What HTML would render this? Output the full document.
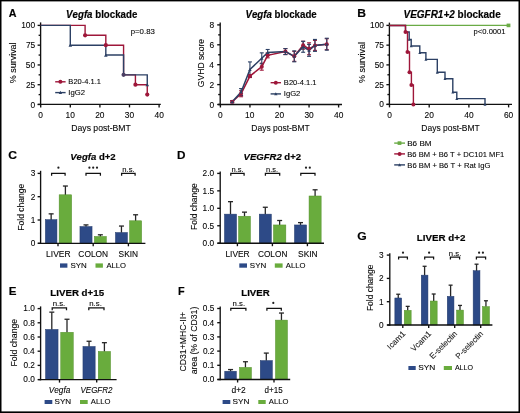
<!DOCTYPE html><html><head><meta charset="utf-8"><style>html,body{margin:0;padding:0;background:#fff;}svg{display:block;font-family:"Liberation Sans",sans-serif;font-kerning:none;filter:blur(0.35px);}text{stroke:#1e1e1e;stroke-width:0.1px;} text[font-weight=bold]{stroke-width:0.2px;}</style></head><body>
<svg width="520" height="413" viewBox="0 0 520 413">
<rect x="0.00" y="0.00" width="520.00" height="413.00" fill="#fff"/>
<text x="8.73" y="16.70" font-size="11.4" font-weight="bold" textLength="7.75" lengthAdjust="spacingAndGlyphs">A</text>
<text x="66.09" y="17.70" font-size="10.2" font-weight="bold" textLength="71.24" lengthAdjust="spacingAndGlyphs"><tspan font-style="italic">Vegfa</tspan> blockade</text>
<line x1="40.60" y1="22.40" x2="40.60" y2="105.08" stroke="#111" stroke-width="1.35" stroke-linecap="butt"/>
<line x1="37.60" y1="104.50" x2="40.60" y2="104.50" stroke="#111" stroke-width="1.35" stroke-linecap="butt"/>
<line x1="37.60" y1="84.72" x2="40.60" y2="84.72" stroke="#111" stroke-width="1.35" stroke-linecap="butt"/>
<line x1="37.60" y1="64.95" x2="40.60" y2="64.95" stroke="#111" stroke-width="1.35" stroke-linecap="butt"/>
<line x1="37.60" y1="45.17" x2="40.60" y2="45.17" stroke="#111" stroke-width="1.35" stroke-linecap="butt"/>
<line x1="37.60" y1="25.40" x2="40.60" y2="25.40" stroke="#111" stroke-width="1.35" stroke-linecap="butt"/>
<line x1="38.60" y1="94.61" x2="40.60" y2="94.61" stroke="#111" stroke-width="1.35" stroke-linecap="butt"/>
<line x1="38.60" y1="74.84" x2="40.60" y2="74.84" stroke="#111" stroke-width="1.35" stroke-linecap="butt"/>
<line x1="38.60" y1="55.06" x2="40.60" y2="55.06" stroke="#111" stroke-width="1.35" stroke-linecap="butt"/>
<line x1="38.60" y1="35.29" x2="40.60" y2="35.29" stroke="#111" stroke-width="1.35" stroke-linecap="butt"/>
<line x1="37.80" y1="104.40" x2="160.80" y2="104.40" stroke="#111" stroke-width="1.35" stroke-linecap="butt"/>
<line x1="40.70" y1="104.40" x2="40.70" y2="107.40" stroke="#111" stroke-width="1.35" stroke-linecap="butt"/>
<line x1="70.30" y1="104.40" x2="70.30" y2="107.40" stroke="#111" stroke-width="1.35" stroke-linecap="butt"/>
<line x1="99.90" y1="104.40" x2="99.90" y2="107.40" stroke="#111" stroke-width="1.35" stroke-linecap="butt"/>
<line x1="129.50" y1="104.40" x2="129.50" y2="107.40" stroke="#111" stroke-width="1.35" stroke-linecap="butt"/>
<line x1="159.10" y1="104.40" x2="159.10" y2="107.40" stroke="#111" stroke-width="1.35" stroke-linecap="butt"/>
<text x="30.56" y="107.50" font-size="8.4" textLength="4.67" lengthAdjust="spacingAndGlyphs">0</text>
<text x="25.91" y="87.72" font-size="8.4" textLength="9.34" lengthAdjust="spacingAndGlyphs">25</text>
<text x="25.88" y="67.95" font-size="8.4" textLength="9.34" lengthAdjust="spacingAndGlyphs">50</text>
<text x="25.91" y="48.17" font-size="8.4" textLength="9.34" lengthAdjust="spacingAndGlyphs">75</text>
<text x="21.21" y="28.40" font-size="8.4" textLength="14.02" lengthAdjust="spacingAndGlyphs">100</text>
<text x="38.36" y="117.80" font-size="8.4" textLength="4.67" lengthAdjust="spacingAndGlyphs">0</text>
<text x="65.47" y="117.80" font-size="8.4" textLength="9.34" lengthAdjust="spacingAndGlyphs">10</text>
<text x="95.18" y="117.80" font-size="8.4" textLength="9.34" lengthAdjust="spacingAndGlyphs">20</text>
<text x="124.83" y="117.80" font-size="8.4" textLength="9.34" lengthAdjust="spacingAndGlyphs">30</text>
<text x="154.50" y="117.80" font-size="8.4" textLength="9.34" lengthAdjust="spacingAndGlyphs">40</text>
<text x="71.29" y="130.70" font-size="9.8" textLength="59.51" lengthAdjust="spacingAndGlyphs">Days post-BMT</text>
<text x="-0.32" y="0" transform="translate(16.00,83.00) rotate(-90)" font-size="9.9" textLength="40.92" lengthAdjust="spacingAndGlyphs">% survival</text>
<text x="130.70" y="33.50" font-size="7.0" textLength="24.15" lengthAdjust="spacingAndGlyphs">p=0.83</text>
<path d="M40.7,25.39999999999999 H85.1 V35.287499999999994 H105.82000000000001 V45.175 H123.58 V74.8375 H135.42000000000002 V84.725 H147.26 V94.6125" stroke="#9e173a" stroke-width="1.4" fill="none" stroke-linejoin="miter"/>
<path d="M40.7,25.39999999999999 H70.30000000000001 V45.175 H105.82000000000001 V55.0625 H123.58 V74.8375 H147.26 V84.725" stroke="#2c4064" stroke-width="1.4" fill="none" stroke-linejoin="miter"/>
<circle cx="85.10" cy="35.29" r="2.1" fill="#9e173a"/>
<circle cx="105.82" cy="45.17" r="2.1" fill="#9e173a"/>
<circle cx="135.42" cy="84.72" r="2.1" fill="#9e173a"/>
<circle cx="147.26" cy="94.61" r="2.1" fill="#9e173a"/>
<path d="M68.50,46.79 L72.10,46.79 L70.30,43.55 Z" fill="#2c4064"/>
<path d="M104.02,56.68 L107.62,56.68 L105.82,53.44 Z" fill="#2c4064"/>
<path d="M145.46,86.34 L149.06,86.34 L147.26,83.10 Z" fill="#2c4064"/>
<circle cx="123.58" cy="74.84" r="2.1" fill="#4a3d62"/>
<line x1="55.20" y1="81.80" x2="65.60" y2="81.80" stroke="#9e173a" stroke-width="1.4" stroke-linecap="butt"/>
<circle cx="60.40" cy="81.80" r="2.0" fill="#9e173a"/>
<text x="68.38" y="84.40" font-size="7.5" textLength="32.58" lengthAdjust="spacingAndGlyphs">B20-4.1.1</text>
<line x1="55.20" y1="92.60" x2="65.60" y2="92.60" stroke="#2c4064" stroke-width="1.4" stroke-linecap="butt"/>
<path d="M58.70,93.93 L62.10,93.93 L60.40,90.87 Z" fill="#2c4064"/>
<text x="68.29" y="95.20" font-size="7.5" textLength="16.70" lengthAdjust="spacingAndGlyphs">IgG2</text>
<text x="245.49" y="17.70" font-size="10.2" font-weight="bold" textLength="71.24" lengthAdjust="spacingAndGlyphs"><tspan font-style="italic">Vegfa</tspan> blockade</text>
<line x1="220.20" y1="22.60" x2="220.20" y2="105.17" stroke="#111" stroke-width="1.35" stroke-linecap="butt"/>
<line x1="217.20" y1="104.50" x2="220.20" y2="104.50" stroke="#111" stroke-width="1.35" stroke-linecap="butt"/>
<line x1="217.20" y1="84.60" x2="220.20" y2="84.60" stroke="#111" stroke-width="1.35" stroke-linecap="butt"/>
<line x1="217.20" y1="64.70" x2="220.20" y2="64.70" stroke="#111" stroke-width="1.35" stroke-linecap="butt"/>
<line x1="217.20" y1="44.80" x2="220.20" y2="44.80" stroke="#111" stroke-width="1.35" stroke-linecap="butt"/>
<line x1="217.20" y1="24.90" x2="220.20" y2="24.90" stroke="#111" stroke-width="1.35" stroke-linecap="butt"/>
<line x1="218.20" y1="94.55" x2="220.20" y2="94.55" stroke="#111" stroke-width="1.35" stroke-linecap="butt"/>
<line x1="218.20" y1="74.65" x2="220.20" y2="74.65" stroke="#111" stroke-width="1.35" stroke-linecap="butt"/>
<line x1="218.20" y1="54.75" x2="220.20" y2="54.75" stroke="#111" stroke-width="1.35" stroke-linecap="butt"/>
<line x1="218.20" y1="34.85" x2="220.20" y2="34.85" stroke="#111" stroke-width="1.35" stroke-linecap="butt"/>
<line x1="218.00" y1="104.50" x2="342.00" y2="104.50" stroke="#111" stroke-width="1.35" stroke-linecap="butt"/>
<line x1="220.40" y1="104.50" x2="220.40" y2="107.50" stroke="#111" stroke-width="1.35" stroke-linecap="butt"/>
<line x1="249.95" y1="104.50" x2="249.95" y2="107.50" stroke="#111" stroke-width="1.35" stroke-linecap="butt"/>
<line x1="279.50" y1="104.50" x2="279.50" y2="107.50" stroke="#111" stroke-width="1.35" stroke-linecap="butt"/>
<line x1="309.05" y1="104.50" x2="309.05" y2="107.50" stroke="#111" stroke-width="1.35" stroke-linecap="butt"/>
<line x1="338.60" y1="104.50" x2="338.60" y2="107.50" stroke="#111" stroke-width="1.35" stroke-linecap="butt"/>
<text x="209.46" y="107.50" font-size="8.4" textLength="4.67" lengthAdjust="spacingAndGlyphs">0</text>
<text x="209.55" y="87.60" font-size="8.4" textLength="4.67" lengthAdjust="spacingAndGlyphs">2</text>
<text x="209.37" y="67.70" font-size="8.4" textLength="4.67" lengthAdjust="spacingAndGlyphs">4</text>
<text x="209.50" y="47.80" font-size="8.4" textLength="4.67" lengthAdjust="spacingAndGlyphs">6</text>
<text x="209.49" y="27.90" font-size="8.4" textLength="4.67" lengthAdjust="spacingAndGlyphs">8</text>
<text x="218.06" y="117.80" font-size="8.4" textLength="4.67" lengthAdjust="spacingAndGlyphs">0</text>
<text x="245.12" y="117.80" font-size="8.4" textLength="9.34" lengthAdjust="spacingAndGlyphs">10</text>
<text x="274.78" y="117.80" font-size="8.4" textLength="9.34" lengthAdjust="spacingAndGlyphs">20</text>
<text x="304.38" y="117.80" font-size="8.4" textLength="9.34" lengthAdjust="spacingAndGlyphs">30</text>
<text x="334.00" y="117.80" font-size="8.4" textLength="9.34" lengthAdjust="spacingAndGlyphs">40</text>
<text x="251.30" y="130.70" font-size="9.8" textLength="58.49" lengthAdjust="spacingAndGlyphs">Days post-BMT</text>
<text x="-0.43" y="0" transform="translate(204.00,86.80) rotate(-90)" font-size="9.6" textLength="48.32" lengthAdjust="spacingAndGlyphs">GVHD score</text>
<line x1="232.22" y1="100.72" x2="232.22" y2="102.71" stroke="#9e173a" stroke-width="1.1" stroke-linecap="butt"/>
<line x1="230.22" y1="100.72" x2="234.22" y2="100.72" stroke="#9e173a" stroke-width="1.1" stroke-linecap="butt"/>
<line x1="230.22" y1="102.71" x2="234.22" y2="102.71" stroke="#9e173a" stroke-width="1.1" stroke-linecap="butt"/>
<line x1="241.09" y1="90.77" x2="241.09" y2="96.74" stroke="#9e173a" stroke-width="1.1" stroke-linecap="butt"/>
<line x1="239.09" y1="90.77" x2="243.09" y2="90.77" stroke="#9e173a" stroke-width="1.1" stroke-linecap="butt"/>
<line x1="239.09" y1="96.74" x2="243.09" y2="96.74" stroke="#9e173a" stroke-width="1.1" stroke-linecap="butt"/>
<line x1="249.95" y1="74.55" x2="249.95" y2="77.54" stroke="#9e173a" stroke-width="1.1" stroke-linecap="butt"/>
<line x1="247.95" y1="74.55" x2="251.95" y2="74.55" stroke="#9e173a" stroke-width="1.1" stroke-linecap="butt"/>
<line x1="247.95" y1="77.54" x2="251.95" y2="77.54" stroke="#9e173a" stroke-width="1.1" stroke-linecap="butt"/>
<line x1="261.77" y1="63.21" x2="261.77" y2="70.17" stroke="#9e173a" stroke-width="1.1" stroke-linecap="butt"/>
<line x1="259.77" y1="63.21" x2="263.77" y2="63.21" stroke="#9e173a" stroke-width="1.1" stroke-linecap="butt"/>
<line x1="259.77" y1="70.17" x2="263.77" y2="70.17" stroke="#9e173a" stroke-width="1.1" stroke-linecap="butt"/>
<line x1="267.68" y1="52.86" x2="267.68" y2="57.83" stroke="#9e173a" stroke-width="1.1" stroke-linecap="butt"/>
<line x1="265.68" y1="52.86" x2="269.68" y2="52.86" stroke="#9e173a" stroke-width="1.1" stroke-linecap="butt"/>
<line x1="265.68" y1="57.83" x2="269.68" y2="57.83" stroke="#9e173a" stroke-width="1.1" stroke-linecap="butt"/>
<line x1="285.41" y1="48.58" x2="285.41" y2="54.55" stroke="#9e173a" stroke-width="1.1" stroke-linecap="butt"/>
<line x1="283.41" y1="48.58" x2="287.41" y2="48.58" stroke="#9e173a" stroke-width="1.1" stroke-linecap="butt"/>
<line x1="283.41" y1="54.55" x2="287.41" y2="54.55" stroke="#9e173a" stroke-width="1.1" stroke-linecap="butt"/>
<line x1="294.27" y1="51.37" x2="294.27" y2="61.32" stroke="#9e173a" stroke-width="1.1" stroke-linecap="butt"/>
<line x1="292.27" y1="51.37" x2="296.27" y2="51.37" stroke="#9e173a" stroke-width="1.1" stroke-linecap="butt"/>
<line x1="292.27" y1="61.32" x2="296.27" y2="61.32" stroke="#9e173a" stroke-width="1.1" stroke-linecap="butt"/>
<line x1="303.14" y1="41.22" x2="303.14" y2="49.18" stroke="#9e173a" stroke-width="1.1" stroke-linecap="butt"/>
<line x1="301.14" y1="41.22" x2="305.14" y2="41.22" stroke="#9e173a" stroke-width="1.1" stroke-linecap="butt"/>
<line x1="301.14" y1="49.18" x2="305.14" y2="49.18" stroke="#9e173a" stroke-width="1.1" stroke-linecap="butt"/>
<line x1="309.05" y1="42.81" x2="309.05" y2="54.75" stroke="#9e173a" stroke-width="1.1" stroke-linecap="butt"/>
<line x1="307.05" y1="42.81" x2="311.05" y2="42.81" stroke="#9e173a" stroke-width="1.1" stroke-linecap="butt"/>
<line x1="307.05" y1="54.75" x2="311.05" y2="54.75" stroke="#9e173a" stroke-width="1.1" stroke-linecap="butt"/>
<line x1="314.96" y1="40.42" x2="314.96" y2="50.37" stroke="#9e173a" stroke-width="1.1" stroke-linecap="butt"/>
<line x1="312.96" y1="40.42" x2="316.96" y2="40.42" stroke="#9e173a" stroke-width="1.1" stroke-linecap="butt"/>
<line x1="312.96" y1="50.37" x2="316.96" y2="50.37" stroke="#9e173a" stroke-width="1.1" stroke-linecap="butt"/>
<line x1="326.78" y1="38.73" x2="326.78" y2="49.68" stroke="#9e173a" stroke-width="1.1" stroke-linecap="butt"/>
<line x1="324.78" y1="38.73" x2="328.78" y2="38.73" stroke="#9e173a" stroke-width="1.1" stroke-linecap="butt"/>
<line x1="324.78" y1="49.68" x2="328.78" y2="49.68" stroke="#9e173a" stroke-width="1.1" stroke-linecap="butt"/>
<line x1="232.22" y1="100.72" x2="232.22" y2="102.71" stroke="#2c4064" stroke-width="1.1" stroke-linecap="butt"/>
<line x1="230.22" y1="100.72" x2="234.22" y2="100.72" stroke="#2c4064" stroke-width="1.1" stroke-linecap="butt"/>
<line x1="230.22" y1="102.71" x2="234.22" y2="102.71" stroke="#2c4064" stroke-width="1.1" stroke-linecap="butt"/>
<line x1="241.09" y1="88.58" x2="241.09" y2="95.55" stroke="#2c4064" stroke-width="1.1" stroke-linecap="butt"/>
<line x1="239.09" y1="88.58" x2="243.09" y2="88.58" stroke="#2c4064" stroke-width="1.1" stroke-linecap="butt"/>
<line x1="239.09" y1="95.55" x2="243.09" y2="95.55" stroke="#2c4064" stroke-width="1.1" stroke-linecap="butt"/>
<line x1="249.95" y1="61.91" x2="249.95" y2="76.84" stroke="#2c4064" stroke-width="1.1" stroke-linecap="butt"/>
<line x1="247.95" y1="61.91" x2="251.95" y2="61.91" stroke="#2c4064" stroke-width="1.1" stroke-linecap="butt"/>
<line x1="247.95" y1="76.84" x2="251.95" y2="76.84" stroke="#2c4064" stroke-width="1.1" stroke-linecap="butt"/>
<line x1="261.77" y1="52.86" x2="261.77" y2="63.80" stroke="#2c4064" stroke-width="1.1" stroke-linecap="butt"/>
<line x1="259.77" y1="52.86" x2="263.77" y2="52.86" stroke="#2c4064" stroke-width="1.1" stroke-linecap="butt"/>
<line x1="259.77" y1="63.80" x2="263.77" y2="63.80" stroke="#2c4064" stroke-width="1.1" stroke-linecap="butt"/>
<line x1="267.68" y1="49.48" x2="267.68" y2="55.45" stroke="#2c4064" stroke-width="1.1" stroke-linecap="butt"/>
<line x1="265.68" y1="49.48" x2="269.68" y2="49.48" stroke="#2c4064" stroke-width="1.1" stroke-linecap="butt"/>
<line x1="265.68" y1="55.45" x2="269.68" y2="55.45" stroke="#2c4064" stroke-width="1.1" stroke-linecap="butt"/>
<line x1="285.41" y1="48.58" x2="285.41" y2="54.55" stroke="#2c4064" stroke-width="1.1" stroke-linecap="butt"/>
<line x1="283.41" y1="48.58" x2="287.41" y2="48.58" stroke="#2c4064" stroke-width="1.1" stroke-linecap="butt"/>
<line x1="283.41" y1="54.55" x2="287.41" y2="54.55" stroke="#2c4064" stroke-width="1.1" stroke-linecap="butt"/>
<line x1="294.27" y1="50.87" x2="294.27" y2="61.81" stroke="#2c4064" stroke-width="1.1" stroke-linecap="butt"/>
<line x1="292.27" y1="50.87" x2="296.27" y2="50.87" stroke="#2c4064" stroke-width="1.1" stroke-linecap="butt"/>
<line x1="292.27" y1="61.81" x2="296.27" y2="61.81" stroke="#2c4064" stroke-width="1.1" stroke-linecap="butt"/>
<line x1="303.14" y1="41.32" x2="303.14" y2="52.26" stroke="#2c4064" stroke-width="1.1" stroke-linecap="butt"/>
<line x1="301.14" y1="41.32" x2="305.14" y2="41.32" stroke="#2c4064" stroke-width="1.1" stroke-linecap="butt"/>
<line x1="301.14" y1="52.26" x2="305.14" y2="52.26" stroke="#2c4064" stroke-width="1.1" stroke-linecap="butt"/>
<line x1="309.05" y1="44.40" x2="309.05" y2="56.34" stroke="#2c4064" stroke-width="1.1" stroke-linecap="butt"/>
<line x1="307.05" y1="44.40" x2="311.05" y2="44.40" stroke="#2c4064" stroke-width="1.1" stroke-linecap="butt"/>
<line x1="307.05" y1="56.34" x2="311.05" y2="56.34" stroke="#2c4064" stroke-width="1.1" stroke-linecap="butt"/>
<line x1="314.96" y1="39.43" x2="314.96" y2="51.37" stroke="#2c4064" stroke-width="1.1" stroke-linecap="butt"/>
<line x1="312.96" y1="39.43" x2="316.96" y2="39.43" stroke="#2c4064" stroke-width="1.1" stroke-linecap="butt"/>
<line x1="312.96" y1="51.37" x2="316.96" y2="51.37" stroke="#2c4064" stroke-width="1.1" stroke-linecap="butt"/>
<line x1="326.78" y1="38.23" x2="326.78" y2="50.17" stroke="#2c4064" stroke-width="1.1" stroke-linecap="butt"/>
<line x1="324.78" y1="38.23" x2="328.78" y2="38.23" stroke="#2c4064" stroke-width="1.1" stroke-linecap="butt"/>
<line x1="324.78" y1="50.17" x2="328.78" y2="50.17" stroke="#2c4064" stroke-width="1.1" stroke-linecap="butt"/>
<path d="M232.22,101.71 L241.09,93.75 L249.95,76.04 L261.77,66.69 L267.68,55.35 L285.41,51.57 L294.27,56.34 L303.14,45.20 L309.05,48.78 L314.96,45.40 L326.78,44.20" stroke="#9e173a" stroke-width="1.5" fill="none" stroke-linejoin="miter"/>
<path d="M232.22,101.71 L241.09,92.06 L249.95,69.38 L261.77,58.33 L267.68,52.46 L285.41,51.57 L294.27,56.34 L303.14,46.79 L309.05,50.37 L314.96,45.40 L326.78,44.20" stroke="#2c4064" stroke-width="1.5" fill="none" stroke-linejoin="miter"/>
<circle cx="232.22" cy="101.71" r="2.0" fill="#9e173a"/>
<circle cx="241.09" cy="93.75" r="2.0" fill="#9e173a"/>
<circle cx="249.95" cy="76.04" r="2.0" fill="#9e173a"/>
<circle cx="261.77" cy="66.69" r="2.0" fill="#9e173a"/>
<circle cx="267.68" cy="55.35" r="2.0" fill="#9e173a"/>
<circle cx="285.41" cy="51.57" r="2.0" fill="#9e173a"/>
<circle cx="294.27" cy="56.34" r="2.0" fill="#9e173a"/>
<circle cx="303.14" cy="45.20" r="2.0" fill="#9e173a"/>
<circle cx="309.05" cy="48.78" r="2.0" fill="#9e173a"/>
<circle cx="314.96" cy="45.40" r="2.0" fill="#9e173a"/>
<circle cx="326.78" cy="44.20" r="2.0" fill="#9e173a"/>
<path d="M230.52,103.24 L233.92,103.24 L232.22,100.18 Z" fill="#2c4064"/>
<path d="M239.39,93.59 L242.78,93.59 L241.09,90.53 Z" fill="#2c4064"/>
<path d="M248.25,70.91 L251.65,70.91 L249.95,67.85 Z" fill="#2c4064"/>
<path d="M260.07,59.86 L263.47,59.86 L261.77,56.80 Z" fill="#2c4064"/>
<path d="M265.98,53.99 L269.38,53.99 L267.68,50.93 Z" fill="#2c4064"/>
<path d="M283.71,53.10 L287.11,53.10 L285.41,50.04 Z" fill="#2c4064"/>
<path d="M292.57,57.87 L295.97,57.87 L294.27,54.81 Z" fill="#2c4064"/>
<path d="M301.44,48.32 L304.84,48.32 L303.14,45.26 Z" fill="#2c4064"/>
<path d="M307.35,51.90 L310.75,51.90 L309.05,48.84 Z" fill="#2c4064"/>
<path d="M313.26,46.93 L316.66,46.93 L314.96,43.87 Z" fill="#2c4064"/>
<path d="M325.08,45.73 L328.48,45.73 L326.78,42.67 Z" fill="#2c4064"/>
<line x1="270.60" y1="82.70" x2="281.00" y2="82.70" stroke="#9e173a" stroke-width="1.4" stroke-linecap="butt"/>
<circle cx="275.80" cy="82.70" r="2.0" fill="#9e173a"/>
<text x="283.88" y="85.20" font-size="7.5" textLength="32.69" lengthAdjust="spacingAndGlyphs">B20-4.1.1</text>
<line x1="270.60" y1="93.90" x2="281.00" y2="93.90" stroke="#2c4064" stroke-width="1.4" stroke-linecap="butt"/>
<path d="M274.10,95.23 L277.50,95.23 L275.80,92.17 Z" fill="#2c4064"/>
<text x="283.79" y="96.20" font-size="7.5" textLength="16.59" lengthAdjust="spacingAndGlyphs">IgG2</text>
<text x="357.19" y="16.90" font-size="11.4" font-weight="bold" textLength="8.76" lengthAdjust="spacingAndGlyphs">B</text>
<text x="403.57" y="17.70" font-size="10.2" font-weight="bold" textLength="97.17" lengthAdjust="spacingAndGlyphs"><tspan font-style="italic">VEGFR1+2</tspan> blockade</text>
<line x1="389.40" y1="22.60" x2="389.40" y2="105.08" stroke="#111" stroke-width="1.35" stroke-linecap="butt"/>
<line x1="386.40" y1="104.40" x2="389.40" y2="104.40" stroke="#111" stroke-width="1.35" stroke-linecap="butt"/>
<line x1="386.40" y1="84.65" x2="389.40" y2="84.65" stroke="#111" stroke-width="1.35" stroke-linecap="butt"/>
<line x1="386.40" y1="64.90" x2="389.40" y2="64.90" stroke="#111" stroke-width="1.35" stroke-linecap="butt"/>
<line x1="386.40" y1="45.15" x2="389.40" y2="45.15" stroke="#111" stroke-width="1.35" stroke-linecap="butt"/>
<line x1="386.40" y1="25.40" x2="389.40" y2="25.40" stroke="#111" stroke-width="1.35" stroke-linecap="butt"/>
<line x1="387.40" y1="94.53" x2="389.40" y2="94.53" stroke="#111" stroke-width="1.35" stroke-linecap="butt"/>
<line x1="387.40" y1="74.78" x2="389.40" y2="74.78" stroke="#111" stroke-width="1.35" stroke-linecap="butt"/>
<line x1="387.40" y1="55.03" x2="389.40" y2="55.03" stroke="#111" stroke-width="1.35" stroke-linecap="butt"/>
<line x1="387.40" y1="35.28" x2="389.40" y2="35.28" stroke="#111" stroke-width="1.35" stroke-linecap="butt"/>
<line x1="386.60" y1="104.40" x2="512.00" y2="104.40" stroke="#111" stroke-width="1.35" stroke-linecap="butt"/>
<line x1="389.50" y1="104.40" x2="389.50" y2="107.40" stroke="#111" stroke-width="1.35" stroke-linecap="butt"/>
<line x1="429.20" y1="104.40" x2="429.20" y2="107.40" stroke="#111" stroke-width="1.35" stroke-linecap="butt"/>
<line x1="468.90" y1="104.40" x2="468.90" y2="107.40" stroke="#111" stroke-width="1.35" stroke-linecap="butt"/>
<line x1="508.60" y1="104.40" x2="508.60" y2="107.40" stroke="#111" stroke-width="1.35" stroke-linecap="butt"/>
<text x="379.36" y="107.40" font-size="8.4" textLength="4.67" lengthAdjust="spacingAndGlyphs">0</text>
<text x="374.71" y="87.65" font-size="8.4" textLength="9.34" lengthAdjust="spacingAndGlyphs">25</text>
<text x="374.68" y="67.90" font-size="8.4" textLength="9.34" lengthAdjust="spacingAndGlyphs">50</text>
<text x="374.71" y="48.15" font-size="8.4" textLength="9.34" lengthAdjust="spacingAndGlyphs">75</text>
<text x="370.01" y="28.40" font-size="8.4" textLength="14.02" lengthAdjust="spacingAndGlyphs">100</text>
<text x="387.16" y="117.80" font-size="8.4" textLength="4.67" lengthAdjust="spacingAndGlyphs">0</text>
<text x="424.48" y="117.80" font-size="8.4" textLength="9.34" lengthAdjust="spacingAndGlyphs">20</text>
<text x="464.30" y="117.80" font-size="8.4" textLength="9.34" lengthAdjust="spacingAndGlyphs">40</text>
<text x="503.88" y="117.80" font-size="8.4" textLength="9.34" lengthAdjust="spacingAndGlyphs">60</text>
<text x="421.30" y="130.70" font-size="9.8" textLength="58.49" lengthAdjust="spacingAndGlyphs">Days post-BMT</text>
<text x="-0.32" y="0" transform="translate(364.80,82.60) rotate(-90)" font-size="9.9" textLength="40.82" lengthAdjust="spacingAndGlyphs">% survival</text>
<text x="473.61" y="34.30" font-size="7.0" textLength="31.96" lengthAdjust="spacingAndGlyphs">p&lt;0.0001</text>
<line x1="389.60" y1="25.40" x2="509.00" y2="25.40" stroke="#6aab45" stroke-width="1.4" stroke-linecap="butt"/>
<rect x="506.60" y="23.60" width="3.80" height="3.60" fill="#6aab45"/>
<path d="M389.6,25.5 H405.5 V32 H409.2 V39.5 H411.2 V46 H419.8 V52.7 H425.9 V59.4 H437.3 V72.3 H445 V78.7 H452.8 V92.2 H456.8 V98.6 H485.0 V104.4" stroke="#2c4064" stroke-width="1.4" fill="none" stroke-linejoin="miter"/>
<path d="M407.70,40.85 L410.70,40.85 L409.20,38.15 Z" fill="#2c4064"/>
<path d="M409.70,47.35 L412.70,47.35 L411.20,44.65 Z" fill="#2c4064"/>
<path d="M418.30,54.05 L421.30,54.05 L419.80,51.35 Z" fill="#2c4064"/>
<path d="M424.40,60.75 L427.40,60.75 L425.90,58.05 Z" fill="#2c4064"/>
<path d="M435.80,73.65 L438.80,73.65 L437.30,70.95 Z" fill="#2c4064"/>
<path d="M443.50,80.05 L446.50,80.05 L445.00,77.35 Z" fill="#2c4064"/>
<path d="M451.30,93.55 L454.30,93.55 L452.80,90.85 Z" fill="#2c4064"/>
<path d="M455.30,99.95 L458.30,99.95 L456.80,97.25 Z" fill="#2c4064"/>
<path d="M483.50,105.75 L486.50,105.75 L485.00,103.05 Z" fill="#2c4064"/>
<path d="M389.6,25.5 H405.5 V32 H407.5 V52 H409.5 V72.2 H411.4 V85 H413.4 V104.4" stroke="#9e173a" stroke-width="1.4" fill="none" stroke-linejoin="miter"/>
<circle cx="405.50" cy="32.00" r="2.0" fill="#9e173a"/>
<circle cx="407.50" cy="52.00" r="2.0" fill="#9e173a"/>
<circle cx="409.50" cy="72.20" r="2.0" fill="#9e173a"/>
<circle cx="411.40" cy="85.00" r="2.0" fill="#9e173a"/>
<circle cx="413.40" cy="104.40" r="2.0" fill="#9e173a"/>
<line x1="394.20" y1="143.10" x2="405.00" y2="143.10" stroke="#6aab45" stroke-width="1.4" stroke-linecap="butt"/>
<rect x="397.60" y="141.30" width="3.80" height="3.60" fill="#6aab45"/>
<text x="407.23" y="146.00" font-size="7.5" textLength="24.33" lengthAdjust="spacingAndGlyphs">B6 BM</text>
<line x1="394.20" y1="153.90" x2="405.00" y2="153.90" stroke="#9e173a" stroke-width="1.4" stroke-linecap="butt"/>
<circle cx="399.60" cy="153.90" r="2.0" fill="#9e173a"/>
<text x="407.28" y="156.70" font-size="7.5" textLength="96.99" lengthAdjust="spacingAndGlyphs">B6 BM + B6 T + DC101 MF1</text>
<line x1="394.20" y1="164.90" x2="405.00" y2="164.90" stroke="#2c4064" stroke-width="1.4" stroke-linecap="butt"/>
<path d="M398.00,166.14 L401.20,166.14 L399.60,163.26 Z" fill="#2c4064"/>
<text x="407.27" y="167.50" font-size="7.5" textLength="83.10" lengthAdjust="spacingAndGlyphs">B6 BM + B6 T + Rat IgG</text>
<text x="8.20" y="158.70" font-size="11.4" font-weight="bold" textLength="8.73" lengthAdjust="spacingAndGlyphs">C</text>
<text x="70.20" y="159.70" font-size="9.3" font-weight="bold" textLength="45.48" lengthAdjust="spacingAndGlyphs"><tspan font-style="italic">Vegfa</tspan> d+2</text>
<line x1="51.15" y1="213.86" x2="51.15" y2="219.88" stroke="#262626" stroke-width="1.3" stroke-linecap="butt"/>
<line x1="48.65" y1="213.86" x2="53.65" y2="213.86" stroke="#262626" stroke-width="1.3" stroke-linecap="butt"/>
<rect x="45.35" y="219.63" width="11.60" height="23.67" fill="#2d4a87" stroke="#233a6a" stroke-width="0.5"/>
<line x1="65.40" y1="186.03" x2="65.40" y2="195.04" stroke="#262626" stroke-width="1.3" stroke-linecap="butt"/>
<line x1="62.90" y1="186.03" x2="67.90" y2="186.03" stroke="#262626" stroke-width="1.3" stroke-linecap="butt"/>
<rect x="59.15" y="194.79" width="12.50" height="48.51" fill="#69ac3d" stroke="#548f2c" stroke-width="0.5"/>
<line x1="86.00" y1="224.90" x2="86.00" y2="226.78" stroke="#262626" stroke-width="1.3" stroke-linecap="butt"/>
<line x1="83.50" y1="224.90" x2="88.50" y2="224.90" stroke="#262626" stroke-width="1.3" stroke-linecap="butt"/>
<rect x="79.95" y="226.53" width="12.10" height="16.77" fill="#2d4a87" stroke="#233a6a" stroke-width="0.5"/>
<line x1="100.35" y1="234.79" x2="100.35" y2="236.67" stroke="#262626" stroke-width="1.3" stroke-linecap="butt"/>
<line x1="97.85" y1="234.79" x2="102.85" y2="234.79" stroke="#262626" stroke-width="1.3" stroke-linecap="butt"/>
<rect x="94.35" y="236.42" width="12.00" height="6.88" fill="#69ac3d" stroke="#548f2c" stroke-width="0.5"/>
<line x1="121.45" y1="226.05" x2="121.45" y2="232.76" stroke="#262626" stroke-width="1.3" stroke-linecap="butt"/>
<line x1="118.95" y1="226.05" x2="123.95" y2="226.05" stroke="#262626" stroke-width="1.3" stroke-linecap="butt"/>
<rect x="115.45" y="232.51" width="12.00" height="10.79" fill="#2d4a87" stroke="#233a6a" stroke-width="0.5"/>
<line x1="135.60" y1="214.78" x2="135.60" y2="221.03" stroke="#262626" stroke-width="1.3" stroke-linecap="butt"/>
<line x1="133.10" y1="214.78" x2="138.10" y2="214.78" stroke="#262626" stroke-width="1.3" stroke-linecap="butt"/>
<rect x="129.55" y="220.78" width="12.10" height="22.52" fill="#69ac3d" stroke="#548f2c" stroke-width="0.5"/>
<line x1="40.60" y1="170.80" x2="40.60" y2="243.98" stroke="#111" stroke-width="1.35" stroke-linecap="butt"/>
<line x1="37.60" y1="243.30" x2="40.60" y2="243.30" stroke="#111" stroke-width="1.35" stroke-linecap="butt"/>
<line x1="37.60" y1="220.00" x2="40.60" y2="220.00" stroke="#111" stroke-width="1.35" stroke-linecap="butt"/>
<line x1="37.60" y1="196.70" x2="40.60" y2="196.70" stroke="#111" stroke-width="1.35" stroke-linecap="butt"/>
<line x1="37.60" y1="173.40" x2="40.60" y2="173.40" stroke="#111" stroke-width="1.35" stroke-linecap="butt"/>
<line x1="38.00" y1="243.30" x2="145.40" y2="243.30" stroke="#111" stroke-width="1.35" stroke-linecap="butt"/>
<line x1="58.00" y1="243.30" x2="58.00" y2="246.30" stroke="#111" stroke-width="1.35" stroke-linecap="butt"/>
<line x1="93.20" y1="243.30" x2="93.20" y2="246.30" stroke="#111" stroke-width="1.35" stroke-linecap="butt"/>
<line x1="128.40" y1="243.30" x2="128.40" y2="246.30" stroke="#111" stroke-width="1.35" stroke-linecap="butt"/>
<text x="30.71" y="246.10" font-size="8.3" textLength="4.62" lengthAdjust="spacingAndGlyphs">0</text>
<text x="30.79" y="222.80" font-size="8.3" textLength="4.62" lengthAdjust="spacingAndGlyphs">1</text>
<text x="30.80" y="199.50" font-size="8.3" textLength="4.62" lengthAdjust="spacingAndGlyphs">2</text>
<text x="30.75" y="176.20" font-size="8.3" textLength="4.62" lengthAdjust="spacingAndGlyphs">3</text>
<text x="-0.70" y="0" transform="translate(23.80,230.00) rotate(-90)" font-size="8.2" textLength="47.08" lengthAdjust="spacingAndGlyphs">Fold change</text>
<path d="M51.60,175.80 V173.40 H65.10 V175.80" stroke="#111" stroke-width="1.25" fill="none" stroke-linejoin="miter"/>
<circle cx="58.40" cy="167.70" r="1.1" fill="#1e1e1e"/>
<path d="M86.00,175.80 V173.40 H100.40 V175.80" stroke="#111" stroke-width="1.25" fill="none" stroke-linejoin="miter"/>
<circle cx="89.40" cy="167.70" r="1.1" fill="#1e1e1e"/>
<circle cx="93.20" cy="167.70" r="1.1" fill="#1e1e1e"/>
<circle cx="97.00" cy="167.70" r="1.1" fill="#1e1e1e"/>
<path d="M121.60,175.80 V173.40 H135.10 V175.80" stroke="#111" stroke-width="1.25" fill="none" stroke-linejoin="miter"/>
<text x="122.29" y="171.80" font-size="7.2" textLength="12.41" lengthAdjust="spacingAndGlyphs">n.s.</text>
<text x="46.10" y="256.60" font-size="8.2" textLength="24.49" lengthAdjust="spacingAndGlyphs">LIVER</text>
<text x="78.38" y="256.60" font-size="8.2" textLength="29.71" lengthAdjust="spacingAndGlyphs">COLON</text>
<text x="118.62" y="256.60" font-size="8.2" textLength="19.46" lengthAdjust="spacingAndGlyphs">SKIN</text>
<rect x="60.00" y="263.40" width="7.40" height="4.30" fill="#2d4a87"/>
<text x="70.54" y="268.20" font-size="7.5" textLength="16.31" lengthAdjust="spacingAndGlyphs">SYN</text>
<rect x="95.50" y="263.40" width="7.40" height="4.30" fill="#69ac3d"/>
<text x="106.49" y="268.20" font-size="7.5" textLength="19.58" lengthAdjust="spacingAndGlyphs">ALLO</text>
<text x="177.01" y="158.70" font-size="11.4" font-weight="bold" textLength="8.48" lengthAdjust="spacingAndGlyphs">D</text>
<text x="243.60" y="159.70" font-size="9.3" font-weight="bold" textLength="57.48" lengthAdjust="spacingAndGlyphs"><tspan font-style="italic">VEGFR2</tspan> d+2</text>
<line x1="230.50" y1="201.67" x2="230.50" y2="214.38" stroke="#262626" stroke-width="1.3" stroke-linecap="butt"/>
<line x1="228.00" y1="201.67" x2="233.00" y2="201.67" stroke="#262626" stroke-width="1.3" stroke-linecap="butt"/>
<rect x="224.45" y="214.13" width="12.10" height="29.07" fill="#2d4a87" stroke="#233a6a" stroke-width="0.5"/>
<line x1="244.50" y1="212.14" x2="244.50" y2="216.48" stroke="#262626" stroke-width="1.3" stroke-linecap="butt"/>
<line x1="242.00" y1="212.14" x2="247.00" y2="212.14" stroke="#262626" stroke-width="1.3" stroke-linecap="butt"/>
<rect x="238.55" y="216.23" width="11.90" height="26.97" fill="#69ac3d" stroke="#548f2c" stroke-width="0.5"/>
<line x1="265.30" y1="207.25" x2="265.30" y2="214.38" stroke="#262626" stroke-width="1.3" stroke-linecap="butt"/>
<line x1="262.80" y1="207.25" x2="267.80" y2="207.25" stroke="#262626" stroke-width="1.3" stroke-linecap="butt"/>
<rect x="259.25" y="214.13" width="12.10" height="29.07" fill="#2d4a87" stroke="#233a6a" stroke-width="0.5"/>
<line x1="279.65" y1="220.51" x2="279.65" y2="225.20" stroke="#262626" stroke-width="1.3" stroke-linecap="butt"/>
<line x1="277.15" y1="220.51" x2="282.15" y2="220.51" stroke="#262626" stroke-width="1.3" stroke-linecap="butt"/>
<rect x="273.45" y="224.95" width="12.40" height="18.25" fill="#69ac3d" stroke="#548f2c" stroke-width="0.5"/>
<line x1="300.50" y1="222.61" x2="300.50" y2="225.20" stroke="#262626" stroke-width="1.3" stroke-linecap="butt"/>
<line x1="298.00" y1="222.61" x2="303.00" y2="222.61" stroke="#262626" stroke-width="1.3" stroke-linecap="butt"/>
<rect x="294.45" y="224.95" width="12.10" height="18.25" fill="#2d4a87" stroke="#233a6a" stroke-width="0.5"/>
<line x1="315.10" y1="189.80" x2="315.10" y2="196.24" stroke="#262626" stroke-width="1.3" stroke-linecap="butt"/>
<line x1="312.60" y1="189.80" x2="317.60" y2="189.80" stroke="#262626" stroke-width="1.3" stroke-linecap="butt"/>
<rect x="309.05" y="195.99" width="12.10" height="47.21" fill="#69ac3d" stroke="#548f2c" stroke-width="0.5"/>
<line x1="220.20" y1="171.60" x2="220.20" y2="243.88" stroke="#111" stroke-width="1.35" stroke-linecap="butt"/>
<line x1="217.20" y1="243.20" x2="220.20" y2="243.20" stroke="#111" stroke-width="1.35" stroke-linecap="butt"/>
<line x1="217.20" y1="225.75" x2="220.20" y2="225.75" stroke="#111" stroke-width="1.35" stroke-linecap="butt"/>
<line x1="217.20" y1="208.30" x2="220.20" y2="208.30" stroke="#111" stroke-width="1.35" stroke-linecap="butt"/>
<line x1="217.20" y1="190.85" x2="220.20" y2="190.85" stroke="#111" stroke-width="1.35" stroke-linecap="butt"/>
<line x1="217.20" y1="173.40" x2="220.20" y2="173.40" stroke="#111" stroke-width="1.35" stroke-linecap="butt"/>
<line x1="217.60" y1="243.20" x2="324.00" y2="243.20" stroke="#111" stroke-width="1.35" stroke-linecap="butt"/>
<line x1="237.40" y1="243.20" x2="237.40" y2="246.20" stroke="#111" stroke-width="1.35" stroke-linecap="butt"/>
<line x1="272.40" y1="243.20" x2="272.40" y2="246.20" stroke="#111" stroke-width="1.35" stroke-linecap="butt"/>
<line x1="307.40" y1="243.20" x2="307.40" y2="246.20" stroke="#111" stroke-width="1.35" stroke-linecap="butt"/>
<text x="202.59" y="246.00" font-size="8.3" textLength="11.54" lengthAdjust="spacingAndGlyphs">0.0</text>
<text x="202.61" y="228.55" font-size="8.3" textLength="11.54" lengthAdjust="spacingAndGlyphs">0.5</text>
<text x="202.59" y="211.10" font-size="8.3" textLength="11.54" lengthAdjust="spacingAndGlyphs">1.0</text>
<text x="202.61" y="193.65" font-size="8.3" textLength="11.54" lengthAdjust="spacingAndGlyphs">1.5</text>
<text x="202.59" y="176.20" font-size="8.3" textLength="11.54" lengthAdjust="spacingAndGlyphs">2.0</text>
<text x="-0.70" y="0" transform="translate(196.70,229.30) rotate(-90)" font-size="8.2" textLength="46.67" lengthAdjust="spacingAndGlyphs">Fold change</text>
<path d="M230.80,175.80 V173.40 H244.10 V175.80" stroke="#111" stroke-width="1.25" fill="none" stroke-linejoin="miter"/>
<text x="231.50" y="171.80" font-size="7.2" textLength="12.19" lengthAdjust="spacingAndGlyphs">n.s.</text>
<path d="M265.40,175.80 V173.40 H279.70 V175.80" stroke="#111" stroke-width="1.25" fill="none" stroke-linejoin="miter"/>
<text x="266.11" y="171.80" font-size="7.2" textLength="11.97" lengthAdjust="spacingAndGlyphs">n.s.</text>
<path d="M300.80,175.80 V173.40 H315.00 V175.80" stroke="#111" stroke-width="1.25" fill="none" stroke-linejoin="miter"/>
<circle cx="306.00" cy="167.70" r="1.1" fill="#1e1e1e"/>
<circle cx="309.80" cy="167.70" r="1.1" fill="#1e1e1e"/>
<text x="225.41" y="256.60" font-size="8.2" textLength="24.28" lengthAdjust="spacingAndGlyphs">LIVER</text>
<text x="257.98" y="256.60" font-size="8.2" textLength="29.39" lengthAdjust="spacingAndGlyphs">COLON</text>
<text x="298.02" y="256.60" font-size="8.2" textLength="19.67" lengthAdjust="spacingAndGlyphs">SKIN</text>
<rect x="239.30" y="263.40" width="7.70" height="4.30" fill="#2d4a87"/>
<text x="249.84" y="268.20" font-size="7.5" textLength="16.41" lengthAdjust="spacingAndGlyphs">SYN</text>
<rect x="274.80" y="263.40" width="7.80" height="4.30" fill="#69ac3d"/>
<text x="285.79" y="268.20" font-size="7.5" textLength="19.58" lengthAdjust="spacingAndGlyphs">ALLO</text>
<text x="8.72" y="295.20" font-size="11.4" font-weight="bold" textLength="7.73" lengthAdjust="spacingAndGlyphs">E</text>
<text x="50.25" y="295.90" font-size="9.3" font-weight="bold" textLength="53.82" lengthAdjust="spacingAndGlyphs">LIVER d+15</text>
<line x1="51.80" y1="312.15" x2="51.80" y2="329.69" stroke="#262626" stroke-width="1.3" stroke-linecap="butt"/>
<line x1="49.30" y1="312.15" x2="54.30" y2="312.15" stroke="#262626" stroke-width="1.3" stroke-linecap="butt"/>
<rect x="45.55" y="329.44" width="12.50" height="50.16" fill="#2d4a87" stroke="#233a6a" stroke-width="0.5"/>
<line x1="67.00" y1="319.25" x2="67.00" y2="332.53" stroke="#262626" stroke-width="1.3" stroke-linecap="butt"/>
<line x1="64.50" y1="319.25" x2="69.50" y2="319.25" stroke="#262626" stroke-width="1.3" stroke-linecap="butt"/>
<rect x="60.75" y="332.28" width="12.50" height="47.32" fill="#69ac3d" stroke="#548f2c" stroke-width="0.5"/>
<line x1="89.05" y1="341.26" x2="89.05" y2="346.73" stroke="#262626" stroke-width="1.3" stroke-linecap="butt"/>
<line x1="86.55" y1="341.26" x2="91.55" y2="341.26" stroke="#262626" stroke-width="1.3" stroke-linecap="butt"/>
<rect x="82.95" y="346.48" width="12.20" height="33.12" fill="#2d4a87" stroke="#233a6a" stroke-width="0.5"/>
<line x1="104.40" y1="342.68" x2="104.40" y2="351.70" stroke="#262626" stroke-width="1.3" stroke-linecap="butt"/>
<line x1="101.90" y1="342.68" x2="106.90" y2="342.68" stroke="#262626" stroke-width="1.3" stroke-linecap="butt"/>
<rect x="98.25" y="351.45" width="12.30" height="28.15" fill="#69ac3d" stroke="#548f2c" stroke-width="0.5"/>
<line x1="40.60" y1="306.40" x2="40.60" y2="380.28" stroke="#111" stroke-width="1.35" stroke-linecap="butt"/>
<line x1="37.60" y1="379.60" x2="40.60" y2="379.60" stroke="#111" stroke-width="1.35" stroke-linecap="butt"/>
<line x1="37.60" y1="365.40" x2="40.60" y2="365.40" stroke="#111" stroke-width="1.35" stroke-linecap="butt"/>
<line x1="37.60" y1="351.20" x2="40.60" y2="351.20" stroke="#111" stroke-width="1.35" stroke-linecap="butt"/>
<line x1="37.60" y1="337.00" x2="40.60" y2="337.00" stroke="#111" stroke-width="1.35" stroke-linecap="butt"/>
<line x1="37.60" y1="322.80" x2="40.60" y2="322.80" stroke="#111" stroke-width="1.35" stroke-linecap="butt"/>
<line x1="37.60" y1="308.60" x2="40.60" y2="308.60" stroke="#111" stroke-width="1.35" stroke-linecap="butt"/>
<line x1="38.40" y1="379.60" x2="116.60" y2="379.60" stroke="#111" stroke-width="1.35" stroke-linecap="butt"/>
<line x1="59.50" y1="379.60" x2="59.50" y2="382.60" stroke="#111" stroke-width="1.35" stroke-linecap="butt"/>
<line x1="96.70" y1="379.60" x2="96.70" y2="382.60" stroke="#111" stroke-width="1.35" stroke-linecap="butt"/>
<text x="23.29" y="382.40" font-size="8.3" textLength="11.54" lengthAdjust="spacingAndGlyphs">0.0</text>
<text x="23.38" y="368.20" font-size="8.3" textLength="11.54" lengthAdjust="spacingAndGlyphs">0.2</text>
<text x="23.21" y="354.00" font-size="8.3" textLength="11.54" lengthAdjust="spacingAndGlyphs">0.4</text>
<text x="23.33" y="339.80" font-size="8.3" textLength="11.54" lengthAdjust="spacingAndGlyphs">0.6</text>
<text x="23.32" y="325.60" font-size="8.3" textLength="11.54" lengthAdjust="spacingAndGlyphs">0.8</text>
<text x="23.29" y="311.40" font-size="8.3" textLength="11.54" lengthAdjust="spacingAndGlyphs">1.0</text>
<text x="-0.71" y="0" transform="translate(17.40,365.90) rotate(-90)" font-size="8.2" textLength="47.70" lengthAdjust="spacingAndGlyphs">Fold change</text>
<path d="M52.20,310.20 V307.80 H66.50 V310.20" stroke="#111" stroke-width="1.25" fill="none" stroke-linejoin="miter"/>
<text x="52.68" y="306.00" font-size="7.2" textLength="12.64" lengthAdjust="spacingAndGlyphs">n.s.</text>
<path d="M88.80,310.20 V307.80 H104.00 V310.20" stroke="#111" stroke-width="1.25" fill="none" stroke-linejoin="miter"/>
<text x="89.28" y="306.00" font-size="7.2" textLength="12.64" lengthAdjust="spacingAndGlyphs">n.s.</text>
<text x="48.79" y="392.80" font-size="8.2" font-style="italic" textLength="21.49" lengthAdjust="spacingAndGlyphs">Vegfa</text>
<text x="80.51" y="392.80" font-size="8.2" font-style="italic" textLength="31.91" lengthAdjust="spacingAndGlyphs">VEGFR2</text>
<rect x="44.60" y="400.00" width="7.70" height="4.00" fill="#2d4a87"/>
<text x="54.53" y="403.80" font-size="7.5" textLength="16.63" lengthAdjust="spacingAndGlyphs">SYN</text>
<rect x="80.00" y="400.00" width="7.70" height="4.00" fill="#69ac3d"/>
<text x="90.79" y="403.80" font-size="7.5" textLength="19.58" lengthAdjust="spacingAndGlyphs">ALLO</text>
<text x="177.97" y="295.20" font-size="11.4" font-weight="bold" textLength="6.62" lengthAdjust="spacingAndGlyphs">F</text>
<text x="241.26" y="296.00" font-size="9.3" font-weight="bold" textLength="28.34" lengthAdjust="spacingAndGlyphs">LIVER</text>
<line x1="230.55" y1="369.56" x2="230.55" y2="371.48" stroke="#262626" stroke-width="1.3" stroke-linecap="butt"/>
<line x1="228.05" y1="369.56" x2="233.05" y2="369.56" stroke="#262626" stroke-width="1.3" stroke-linecap="butt"/>
<rect x="224.75" y="371.23" width="11.60" height="8.27" fill="#2d4a87" stroke="#233a6a" stroke-width="0.5"/>
<line x1="245.45" y1="361.75" x2="245.45" y2="367.65" stroke="#262626" stroke-width="1.3" stroke-linecap="butt"/>
<line x1="242.95" y1="361.75" x2="247.95" y2="361.75" stroke="#262626" stroke-width="1.3" stroke-linecap="butt"/>
<rect x="239.45" y="367.40" width="12.00" height="12.10" fill="#69ac3d" stroke="#548f2c" stroke-width="0.5"/>
<line x1="266.30" y1="353.09" x2="266.30" y2="360.83" stroke="#262626" stroke-width="1.3" stroke-linecap="butt"/>
<line x1="263.80" y1="353.09" x2="268.80" y2="353.09" stroke="#262626" stroke-width="1.3" stroke-linecap="butt"/>
<rect x="260.25" y="360.58" width="12.10" height="18.92" fill="#2d4a87" stroke="#233a6a" stroke-width="0.5"/>
<line x1="281.45" y1="313.04" x2="281.45" y2="320.36" stroke="#262626" stroke-width="1.3" stroke-linecap="butt"/>
<line x1="278.95" y1="313.04" x2="283.95" y2="313.04" stroke="#262626" stroke-width="1.3" stroke-linecap="butt"/>
<rect x="275.45" y="320.11" width="12.00" height="59.39" fill="#69ac3d" stroke="#548f2c" stroke-width="0.5"/>
<line x1="220.20" y1="306.40" x2="220.20" y2="380.18" stroke="#111" stroke-width="1.35" stroke-linecap="butt"/>
<line x1="217.20" y1="379.50" x2="220.20" y2="379.50" stroke="#111" stroke-width="1.35" stroke-linecap="butt"/>
<line x1="217.20" y1="365.30" x2="220.20" y2="365.30" stroke="#111" stroke-width="1.35" stroke-linecap="butt"/>
<line x1="217.20" y1="351.10" x2="220.20" y2="351.10" stroke="#111" stroke-width="1.35" stroke-linecap="butt"/>
<line x1="217.20" y1="336.90" x2="220.20" y2="336.90" stroke="#111" stroke-width="1.35" stroke-linecap="butt"/>
<line x1="217.20" y1="322.70" x2="220.20" y2="322.70" stroke="#111" stroke-width="1.35" stroke-linecap="butt"/>
<line x1="217.20" y1="308.50" x2="220.20" y2="308.50" stroke="#111" stroke-width="1.35" stroke-linecap="butt"/>
<line x1="217.60" y1="379.50" x2="290.20" y2="379.50" stroke="#111" stroke-width="1.35" stroke-linecap="butt"/>
<line x1="237.60" y1="379.50" x2="237.60" y2="382.50" stroke="#111" stroke-width="1.35" stroke-linecap="butt"/>
<line x1="274.00" y1="379.50" x2="274.00" y2="382.50" stroke="#111" stroke-width="1.35" stroke-linecap="butt"/>
<text x="202.79" y="382.30" font-size="8.3" textLength="11.54" lengthAdjust="spacingAndGlyphs">0.0</text>
<text x="202.87" y="368.10" font-size="8.3" textLength="11.54" lengthAdjust="spacingAndGlyphs">0.1</text>
<text x="202.88" y="353.90" font-size="8.3" textLength="11.54" lengthAdjust="spacingAndGlyphs">0.2</text>
<text x="202.83" y="339.70" font-size="8.3" textLength="11.54" lengthAdjust="spacingAndGlyphs">0.3</text>
<text x="202.71" y="325.50" font-size="8.3" textLength="11.54" lengthAdjust="spacingAndGlyphs">0.4</text>
<text x="202.81" y="311.30" font-size="8.3" textLength="11.54" lengthAdjust="spacingAndGlyphs">0.5</text>
<text x="-0.44" y="0" transform="translate(185.60,371.00) rotate(-90)" font-size="8.6" textLength="59.57" lengthAdjust="spacingAndGlyphs">CD31+MHC-II+</text>
<text x="-0.37" y="0" transform="translate(197.10,374.00) rotate(-90)" font-size="8.6" textLength="67.71" lengthAdjust="spacingAndGlyphs">area (% of CD31)</text>
<path d="M230.80,310.70 V308.30 H245.90 V310.70" stroke="#111" stroke-width="1.25" fill="none" stroke-linejoin="miter"/>
<text x="232.58" y="306.40" font-size="7.2" textLength="12.53" lengthAdjust="spacingAndGlyphs">n.s.</text>
<path d="M266.90,310.70 V308.30 H281.30 V310.70" stroke="#111" stroke-width="1.25" fill="none" stroke-linejoin="miter"/>
<circle cx="273.30" cy="302.90" r="1.1" fill="#1e1e1e"/>
<text x="231.44" y="393.10" font-size="8.2" textLength="14.38" lengthAdjust="spacingAndGlyphs">d+2</text>
<text x="264.56" y="393.10" font-size="8.2" textLength="18.07" lengthAdjust="spacingAndGlyphs">d+15</text>
<rect x="222.60" y="400.00" width="7.70" height="4.00" fill="#2d4a87"/>
<text x="232.53" y="403.80" font-size="7.5" textLength="16.95" lengthAdjust="spacingAndGlyphs">SYN</text>
<rect x="258.30" y="400.00" width="7.40" height="4.00" fill="#69ac3d"/>
<text x="268.79" y="403.80" font-size="7.5" textLength="19.58" lengthAdjust="spacingAndGlyphs">ALLO</text>
<text x="357.30" y="240.40" font-size="11.4" font-weight="bold" textLength="9.45" lengthAdjust="spacingAndGlyphs">G</text>
<text x="416.85" y="241.10" font-size="9.3" font-weight="bold" textLength="48.65" lengthAdjust="spacingAndGlyphs">LIVER d+2</text>
<line x1="398.25" y1="294.24" x2="398.25" y2="298.24" stroke="#262626" stroke-width="1.3" stroke-linecap="butt"/>
<line x1="396.25" y1="294.24" x2="400.25" y2="294.24" stroke="#262626" stroke-width="1.3" stroke-linecap="butt"/>
<rect x="394.85" y="297.99" width="6.80" height="27.01" fill="#2d4a87" stroke="#233a6a" stroke-width="0.5"/>
<line x1="407.70" y1="306.36" x2="407.70" y2="310.59" stroke="#262626" stroke-width="1.3" stroke-linecap="butt"/>
<line x1="405.70" y1="306.36" x2="409.70" y2="306.36" stroke="#262626" stroke-width="1.3" stroke-linecap="butt"/>
<rect x="404.25" y="310.34" width="6.90" height="14.66" fill="#69ac3d" stroke="#548f2c" stroke-width="0.5"/>
<line x1="424.60" y1="266.28" x2="424.60" y2="275.40" stroke="#262626" stroke-width="1.3" stroke-linecap="butt"/>
<line x1="422.60" y1="266.28" x2="426.60" y2="266.28" stroke="#262626" stroke-width="1.3" stroke-linecap="butt"/>
<rect x="421.25" y="275.15" width="6.70" height="49.85" fill="#2d4a87" stroke="#233a6a" stroke-width="0.5"/>
<line x1="433.70" y1="294.01" x2="433.70" y2="301.27" stroke="#262626" stroke-width="1.3" stroke-linecap="butt"/>
<line x1="431.70" y1="294.01" x2="435.70" y2="294.01" stroke="#262626" stroke-width="1.3" stroke-linecap="butt"/>
<rect x="430.25" y="301.02" width="6.90" height="23.98" fill="#69ac3d" stroke="#548f2c" stroke-width="0.5"/>
<line x1="450.60" y1="285.16" x2="450.60" y2="296.61" stroke="#262626" stroke-width="1.3" stroke-linecap="butt"/>
<line x1="448.60" y1="285.16" x2="452.60" y2="285.16" stroke="#262626" stroke-width="1.3" stroke-linecap="butt"/>
<rect x="447.25" y="296.36" width="6.70" height="28.64" fill="#2d4a87" stroke="#233a6a" stroke-width="0.5"/>
<line x1="460.00" y1="305.43" x2="460.00" y2="310.36" stroke="#262626" stroke-width="1.3" stroke-linecap="butt"/>
<line x1="458.00" y1="305.43" x2="462.00" y2="305.43" stroke="#262626" stroke-width="1.3" stroke-linecap="butt"/>
<rect x="456.55" y="310.11" width="6.90" height="14.89" fill="#69ac3d" stroke="#548f2c" stroke-width="0.5"/>
<line x1="476.55" y1="264.19" x2="476.55" y2="270.98" stroke="#262626" stroke-width="1.3" stroke-linecap="butt"/>
<line x1="474.55" y1="264.19" x2="478.55" y2="264.19" stroke="#262626" stroke-width="1.3" stroke-linecap="butt"/>
<rect x="473.15" y="270.73" width="6.80" height="54.27" fill="#2d4a87" stroke="#233a6a" stroke-width="0.5"/>
<line x1="485.95" y1="300.77" x2="485.95" y2="306.86" stroke="#262626" stroke-width="1.3" stroke-linecap="butt"/>
<line x1="483.95" y1="300.77" x2="487.95" y2="300.77" stroke="#262626" stroke-width="1.3" stroke-linecap="butt"/>
<rect x="482.45" y="306.61" width="7.00" height="18.39" fill="#69ac3d" stroke="#548f2c" stroke-width="0.5"/>
<line x1="389.80" y1="253.20" x2="389.80" y2="325.68" stroke="#111" stroke-width="1.35" stroke-linecap="butt"/>
<line x1="386.80" y1="325.00" x2="389.80" y2="325.00" stroke="#111" stroke-width="1.35" stroke-linecap="butt"/>
<line x1="386.80" y1="301.70" x2="389.80" y2="301.70" stroke="#111" stroke-width="1.35" stroke-linecap="butt"/>
<line x1="386.80" y1="278.40" x2="389.80" y2="278.40" stroke="#111" stroke-width="1.35" stroke-linecap="butt"/>
<line x1="386.80" y1="255.10" x2="389.80" y2="255.10" stroke="#111" stroke-width="1.35" stroke-linecap="butt"/>
<line x1="387.20" y1="325.00" x2="492.40" y2="325.00" stroke="#111" stroke-width="1.35" stroke-linecap="butt"/>
<line x1="402.80" y1="325.00" x2="402.80" y2="328.00" stroke="#111" stroke-width="1.35" stroke-linecap="butt"/>
<line x1="428.70" y1="325.00" x2="428.70" y2="328.00" stroke="#111" stroke-width="1.35" stroke-linecap="butt"/>
<line x1="454.70" y1="325.00" x2="454.70" y2="328.00" stroke="#111" stroke-width="1.35" stroke-linecap="butt"/>
<line x1="480.70" y1="325.00" x2="480.70" y2="328.00" stroke="#111" stroke-width="1.35" stroke-linecap="butt"/>
<text x="379.01" y="327.80" font-size="8.3" textLength="4.62" lengthAdjust="spacingAndGlyphs">0</text>
<text x="379.09" y="304.50" font-size="8.3" textLength="4.62" lengthAdjust="spacingAndGlyphs">1</text>
<text x="379.10" y="281.20" font-size="8.3" textLength="4.62" lengthAdjust="spacingAndGlyphs">2</text>
<text x="379.05" y="257.90" font-size="8.3" textLength="4.62" lengthAdjust="spacingAndGlyphs">3</text>
<text x="-0.69" y="0" transform="translate(373.30,310.40) rotate(-90)" font-size="8.2" textLength="46.47" lengthAdjust="spacingAndGlyphs">Fold change</text>
<path d="M398.60,259.50 V257.20 H407.40 V259.50" stroke="#111" stroke-width="1.25" fill="none" stroke-linejoin="miter"/>
<circle cx="403.00" cy="252.70" r="1.1" fill="#1e1e1e"/>
<path d="M424.70,259.50 V257.20 H433.60 V259.50" stroke="#111" stroke-width="1.25" fill="none" stroke-linejoin="miter"/>
<circle cx="429.10" cy="252.70" r="1.1" fill="#1e1e1e"/>
<path d="M450.40,259.50 V257.20 H459.60 V259.50" stroke="#111" stroke-width="1.25" fill="none" stroke-linejoin="miter"/>
<text x="448.89" y="255.60" font-size="7.2" textLength="12.41" lengthAdjust="spacingAndGlyphs">n.s.</text>
<path d="M476.40,259.50 V257.20 H485.60 V259.50" stroke="#111" stroke-width="1.25" fill="none" stroke-linejoin="miter"/>
<circle cx="479.10" cy="252.70" r="1.1" fill="#1e1e1e"/>
<circle cx="482.90" cy="252.70" r="1.1" fill="#1e1e1e"/>
<text x="0" y="0" font-size="8.1" text-anchor="end" fill="#1e1e1e" transform="translate(405.90,334.30) rotate(-45)">Icam1</text>
<text x="0" y="0" font-size="8.1" text-anchor="end" fill="#1e1e1e" transform="translate(431.80,334.30) rotate(-45)">Vcam1</text>
<text x="0" y="0" font-size="8.1" text-anchor="end" fill="#1e1e1e" transform="translate(457.80,334.30) rotate(-45)">E-selectin</text>
<text x="0" y="0" font-size="8.1" text-anchor="end" fill="#1e1e1e" transform="translate(483.80,334.30) rotate(-45)">P-selectin</text>
<rect x="408.40" y="366.00" width="7.30" height="4.00" fill="#2d4a87"/>
<text x="418.22" y="370.40" font-size="7.5" textLength="17.16" lengthAdjust="spacingAndGlyphs">SYN</text>
<rect x="443.80" y="366.00" width="8.20" height="4.00" fill="#69ac3d"/>
<text x="454.89" y="370.40" font-size="7.5" textLength="18.15" lengthAdjust="spacingAndGlyphs">ALLO</text>
<rect x="0.00" y="0.00" width="520.00" height="1.40" fill="#000"/>
<rect x="0.00" y="0.00" width="1.50" height="413.00" fill="#000"/>
<rect x="518.50" y="0.00" width="1.50" height="413.00" fill="#000"/>
<rect x="0.00" y="411.40" width="520.00" height="1.60" fill="#000"/>
</svg></body></html>
